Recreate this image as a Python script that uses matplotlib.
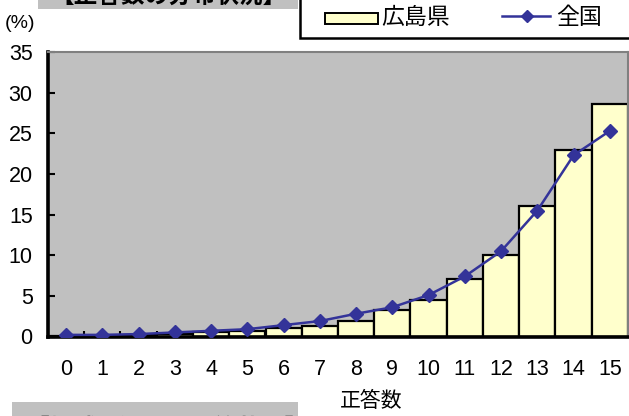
import numpy as np
import matplotlib
matplotlib.use('Agg')
import matplotlib.pyplot as plt
from matplotlib.patches import Rectangle
from matplotlib.lines import Line2D

# 正答数ごとの生徒の割合 (%)
scores = list(range(16))
hiroshima = [0.1, 0.1, 0.2, 0.3, 0.6, 0.7, 1.0, 1.3, 1.9, 3.3, 4.5, 7.1, 10.0, 16.1, 23.0, 28.6]
zenkoku = [0.2, 0.2, 0.3, 0.5, 0.7, 0.9, 1.4, 1.9, 2.8, 3.6, 5.1, 7.4, 10.5, 15.5, 22.3, 25.3]
yticks = [0, 5, 10, 15, 20, 25, 30, 35]

plt.rcParams['font.family'] = ['Liberation Sans Narrow', 'Liberation Sans', 'Noto Sans CJK JP']
CJK = ['Noto Sans CJK JP', 'DejaVu Sans']

W, H = 629, 416
fig = plt.figure(figsize=(W / 100, H / 100), dpi=100)


def fx(x):
    return x / W


def fy(y):
    return 1 - y / H


ax = fig.add_axes([fx(48), fy(336.5), fx(628) - fx(48), fy(52) - fy(336.5)])
ax.set_facecolor('#C0C0C0')

ax.bar(scores, hiroshima, width=1.0, color='#FFFFCC', edgecolor='black', linewidth=1.6, zorder=2)
ax.plot(scores, zenkoku, color='#333399', linewidth=1.8, marker='D', markersize=7, zorder=3)

ax.set_xlim(-0.5, 15.5)
ax.set_ylim(0, 35)
ax.set_yticks(yticks)

# category boundaries carry the tick marks, labels sit at the centres
ax.set_xticks(np.arange(0.5, 15.5, 1.0))
ax.set_xticklabels([])
ax.set_xticks(scores, minor=True)
ax.set_xticklabels([str(s) for s in scores], minor=True)
ax.tick_params(axis='x', which='major', direction='in', length=4, width=1.5)
ax.tick_params(axis='x', which='minor', length=0, pad=16, labelsize=15.5)
ax.tick_params(axis='y', direction='in', length=5, width=1.5, pad=11, labelsize=15.5)

for side in ['left', 'bottom']:
    ax.spines[side].set_linewidth(2.6)
    ax.spines[side].set_color('black')
for side in ['top', 'right']:
    ax.spines[side].set_linewidth(1.5)
    ax.spines[side].set_color('#808080')

fig.text(fx(371), fy(401), '正答数', family=CJK, fontsize=15, ha='center', va='center')
fig.text(fx(20), fy(23), '(%)', fontsize=14, ha='center', va='center')

# 見出しの帯 (上下とも紙面の端で切れている)
fig.patches.append(Rectangle((fx(38), fy(9)), fx(298) - fx(38), fy(-20) - fy(9),
                             transform=fig.transFigure, facecolor='#C0C0C0', edgecolor='none'))
fig.text(fx(50), fy(-4), '【正答数の分布状況】', family=CJK, fontsize=17, fontweight='bold',
         ha='left', va='center')
fig.patches.append(Rectangle((fx(12), fy(440)), fx(298) - fx(12), fy(402) - fy(440),
                             transform=fig.transFigure, facecolor='#C0C0C0', edgecolor='none'))
fig.text(fx(25), fy(429), '【領域・観点別正答状況】', family=CJK, fontsize=17, fontweight='bold',
         ha='left', va='center')

# 凡例
fig.patches.append(Rectangle((fx(300), fy(38)), fx(640) - fx(300), fy(-10) - fy(38),
                             transform=fig.transFigure, facecolor='white', edgecolor='black',
                             linewidth=1.8))
fig.patches.append(Rectangle((fx(325), fy(24)), fx(378) - fx(325), fy(13) - fy(24),
                             transform=fig.transFigure, facecolor='#FFFFCC', edgecolor='black',
                             linewidth=1.4))
fig.text(fx(381), fy(17), '広島県', family=CJK, fontsize=16.5, ha='left', va='center')
fig.lines.append(Line2D([fx(502), fx(550)], [fy(16), fy(16)], transform=fig.transFigure,
                        color='#333399', linewidth=1.8))
fig.lines.append(Line2D([fx(527)], [fy(16)], transform=fig.transFigure, color='#333399',
                        marker='D', markersize=6))
fig.text(fx(556), fy(17), '全国', family=CJK, fontsize=16.5, ha='left', va='center')

fig.savefig('out.png', dpi=100)
